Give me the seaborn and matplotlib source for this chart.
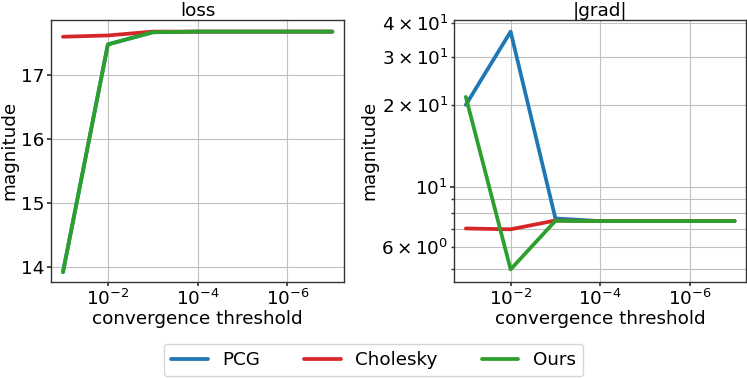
import numpy as np
import pandas as pd
import matplotlib
matplotlib.use("Agg")
import matplotlib.pyplot as plt
import matplotlib.ticker as mticker
import seaborn as sns

thresholds = [1e-1, 1e-2, 1e-3, 1e-4, 1e-5, 1e-6, 1e-7]
methods = ["PCG", "Cholesky", "Ours"]
loss_pcg = [13.92, 17.48, 17.67, 17.68, 17.68, 17.68, 17.68]
loss_chol = [17.60, 17.62, 17.68, 17.68, 17.68, 17.68, 17.68]
loss_ours = [13.92, 17.48, 17.67, 17.68, 17.68, 17.68, 17.68]
grad_pcg = [20.0, 37.2, 7.65, 7.48, 7.48, 7.48, 7.48]
grad_chol = [7.03, 6.98, 7.52, 7.48, 7.48, 7.48, 7.48]
grad_ours = [21.4, 4.97, 7.50, 7.48, 7.48, 7.48, 7.48]
colors = ["#1f77b4", "#d62728", "#2ca02c"]

def long_df(series):
    rows = []
    for m, vals in zip(methods, series):
        for t, v in zip(thresholds, vals):
            rows.append({"threshold": t, "value": v, "method": m})
    return pd.DataFrame(rows)

df_loss = long_df([loss_pcg, loss_chol, loss_ours])
df_grad = long_df([grad_pcg, grad_chol, grad_ours])

fs = 13.2
sns.set_theme(style="whitegrid", rc={
    "axes.edgecolor": "#333333",
    "axes.linewidth": 1.0,
    "grid.color": "#c0c0c0",
    "grid.linewidth": 0.8,
    "font.size": fs,
    "axes.titlesize": fs,
    "axes.labelsize": fs,
    "xtick.labelsize": fs,
    "ytick.labelsize": fs,
    "legend.fontsize": fs,
    "xtick.bottom": True,
    "ytick.left": True,
    "text.color": "black",
    "axes.labelcolor": "black",
    "xtick.color": "#333333",
    "ytick.color": "#333333",
    "xtick.labelcolor": "black",
    "ytick.labelcolor": "black",
})
plt.rcParams["font.family"] = ["DejaVu Sans"]

fig = plt.figure(figsize=(7.47, 3.78), dpi=100)
ax1 = fig.add_axes([0.0687, 0.2548, 0.3918, 0.692])
ax2 = fig.add_axes([0.608, 0.2548, 0.391, 0.692])

pal = dict(zip(methods, colors))
sns.lineplot(data=df_loss, x="threshold", y="value", hue="method", palette=pal,
             hue_order=methods, linewidth=2.7, ax=ax1, legend=False)
sns.lineplot(data=df_grad, x="threshold", y="value", hue="method", palette=pal,
             hue_order=methods, linewidth=2.7, ax=ax2, legend=True)

for ax, title in [(ax1, "loss"), (ax2, "|grad|")]:
    ax.set_xscale("log")
    ax.set_xlim(10**-0.74, 10**-7.26)
    ax.xaxis.set_major_locator(mticker.FixedLocator([1e-2, 1e-4, 1e-6]))
    ax.xaxis.set_minor_locator(mticker.NullLocator())
    ax.set_title(title, pad=3)
    ax.set_xlabel("convergence threshold", labelpad=1)
    ax.set_ylabel("magnitude", labelpad=2)
    ax.tick_params(axis="both", which="major", length=3.0, pad=2)
    ax.grid(True, which="major")

ax1.set_ylim(13.77, 17.86)
ax1.set_yticks([14, 15, 16, 17])
ax2.set_yscale("log")
ax2.set_ylim(4.48, 41.0)
ax2.grid(True, which="minor", axis="y")
ax2.tick_params(axis="y", which="minor", length=2.0, pad=2)

handles, labels = ax2.get_legend_handles_labels()
ax2.get_legend().remove()
fig.legend(handles, labels, loc="lower center", ncol=3, bbox_to_anchor=(0.5, -0.02),
           frameon=True, columnspacing=2.4, handlelength=2.0, edgecolor="#cccccc")

fig.savefig("out.png", dpi=100)
